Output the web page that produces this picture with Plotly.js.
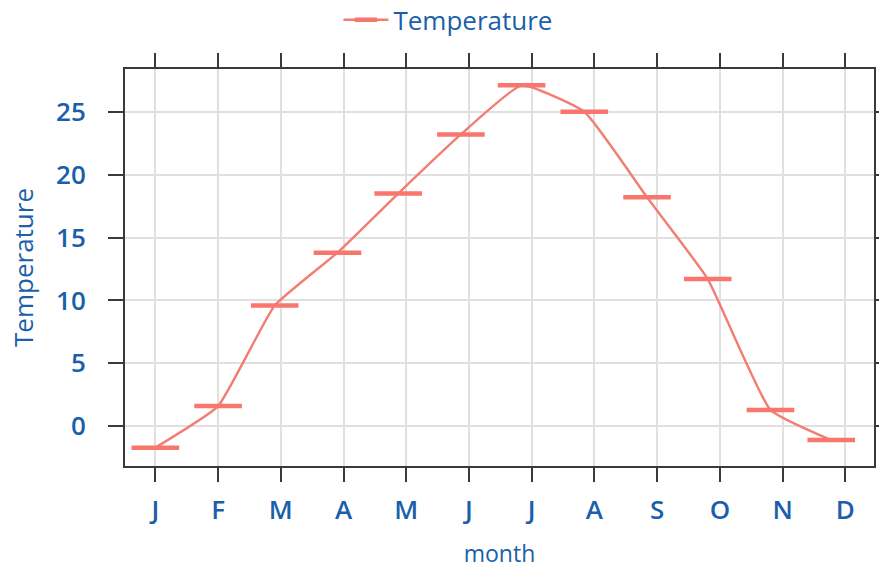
<!DOCTYPE html>
<html>
<head>
<meta charset="utf-8">
<script src="https://cdn.plot.ly/plotly-3.0.1.min.js"></script>
<style>html,body{margin:0;padding:0;background:#fff}#chart{width:879px;height:569px}</style>
</head>
<body>
<div id="chart"></div>
<script>
// Data
const months = ["2021-01-01","2021-02-01","2021-03-01","2021-04-01","2021-05-01","2021-06-01",
                "2021-07-01","2021-08-01","2021-09-01","2021-10-01","2021-11-01","2021-12-01"];
const temperature = [-1.7, 1.6, 9.6, 13.8, 18.5, 23.2, 27.1, 25.0, 18.2, 11.7, 1.3, -1.1];
const tickLabels = ["J","F","M","A","M","J","J","A","S","O","N","D"];
const seriesName = "Temperature";

// tick positions: every 31 days from Jan 1
const dayMs = 86400000;
const start = Date.UTC(2021, 0, 1);
const tickVals = tickLabels.map((_, i) => new Date(start + i * 31 * dayMs).toISOString().slice(0, 10));

const textColor = "#1B5FAA";
const axisColor = "#3a3a3a";
const gridColor = "#e0e0e0";
const font = "Open Sans, Noto Sans, sans-serif";

const trace = {
  x: months,
  y: temperature,
  name: seriesName,
  type: "scatter",
  mode: "lines+markers",
  line: {color: "#F27D72", width: 2.4, shape: "spline", smoothing: 0.4},
  marker: {symbol: "line-ew", size: 34, color: "#F8766D", line: {color: "#F8766D", width: 4.5}},
  showlegend: true
};

const layout = {
  width: 879, height: 569,
  margin: {l: 125, r: 5, t: 69, b: 103},
  paper_bgcolor: "#ffffff",
  plot_bgcolor: "#ffffff",
  font: {family: font, color: textColor, size: 24},
  showlegend: true,
  legend: {
    orientation: "h", xref: "container", x: 0.385, xanchor: "left",
    yref: "container", y: 0.965, yanchor: "middle",
    itemwidth: 45,
    font: {family: font, size: 26, color: textColor},
    bgcolor: "rgba(0,0,0,0)"
  },
  xaxis: {
    type: "date",
    range: ["2020-12-17", "2021-12-22 04:00"],
    tickmode: "array", tickvals: tickVals, ticktext: tickLabels,
    ticks: "outside", ticklen: 14, tickwidth: 2, tickcolor: axisColor,
    ticklabelstandoff: 6,
    showline: true, linecolor: axisColor, linewidth: 2, mirror: "ticks",
    showgrid: true, gridcolor: gridColor, gridwidth: 2, zeroline: false,
    tickfont: {family: font, size: 26, color: textColor, weight: 600},
    title: {text: "month", font: {family: font, size: 23, color: textColor}, standoff: 26}
  },
  yaxis: {
    range: [-3.16, 28.4],
    tickmode: "linear", tick0: 0, dtick: 5,
    ticks: "outside", ticklen: 15, tickwidth: 2, tickcolor: axisColor,
    ticklabelstandoff: 17,
    showline: true, linecolor: axisColor, linewidth: 2, mirror: "ticks",
    showgrid: true, gridcolor: gridColor, gridwidth: 2, zeroline: false,
    tickfont: {family: font, size: 26, color: textColor, weight: 600},
    title: {text: "Temperature", font: {family: font, size: 26, color: textColor}, standoff: 15}
  }
};

Plotly.newPlot("chart", [trace], layout, {displayModeBar: false, staticPlot: true});
</script>
</body>
</html>
